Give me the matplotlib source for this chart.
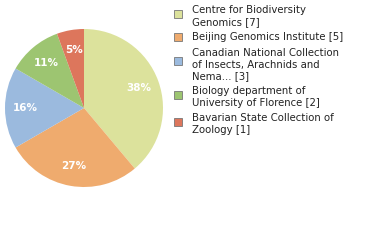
import matplotlib.pyplot as plt
from matplotlib.patches import Rectangle

labels = ['Centre for Biodiversity\nGenomics [7]',
          'Beijing Genomics Institute [5]',
          'Canadian National Collection\nof Insects, Arachnids and\nNema... [3]',
          'Biology department of\nUniversity of Florence [2]',
          'Bavarian State Collection of\nZoology [1]']
counts = [7, 5, 3, 2, 1]
colors = ['#dce29c', '#efab6e', '#9bbade', '#9dc571', '#dd765c']
legend_y = [14, 37, 61, 95, 122]   # square centres, px from top
text_top = [9, 36, 52, 90, 117]

W, H = 380, 240
fig = plt.figure(figsize=(W / 100, H / 100), dpi=100)

cx, cy, r = 84, 108, 79
ax = fig.add_axes([(cx - r) / W, (H - cy - r) / H, 2 * r / W, 2 * r / H])
wedges, texts, autotexts = ax.pie(counts, colors=colors, startangle=90, counterclock=False,
                                  autopct=lambda p: '%d%%' % int(p), pctdistance=0.74,
                                  wedgeprops=dict(linewidth=0))
for t in autotexts:
    t.set_color('white')
    t.set_fontsize(7.5)
    t.set_fontweight('bold')
ax.set_xlim(-1, 1)
ax.set_ylim(-1, 1)
ax.set_aspect('equal')
ax.axis('off')

for lab, col, sy, ty in zip(labels, colors, legend_y, text_top):
    fig.patches.append(Rectangle((174 / W, 1 - (sy + 4) / H), 8 / W, 8 / H,
                                 facecolor=col, edgecolor='#777777', linewidth=0.6,
                                 transform=fig.transFigure, figure=fig))
    fig.text(192 / W, 1 - (ty - 4) / H, lab, fontsize=7.3, va='top', ha='left',
             color='#222222', linespacing=1.2)

fig.savefig('out.png', dpi=100)
